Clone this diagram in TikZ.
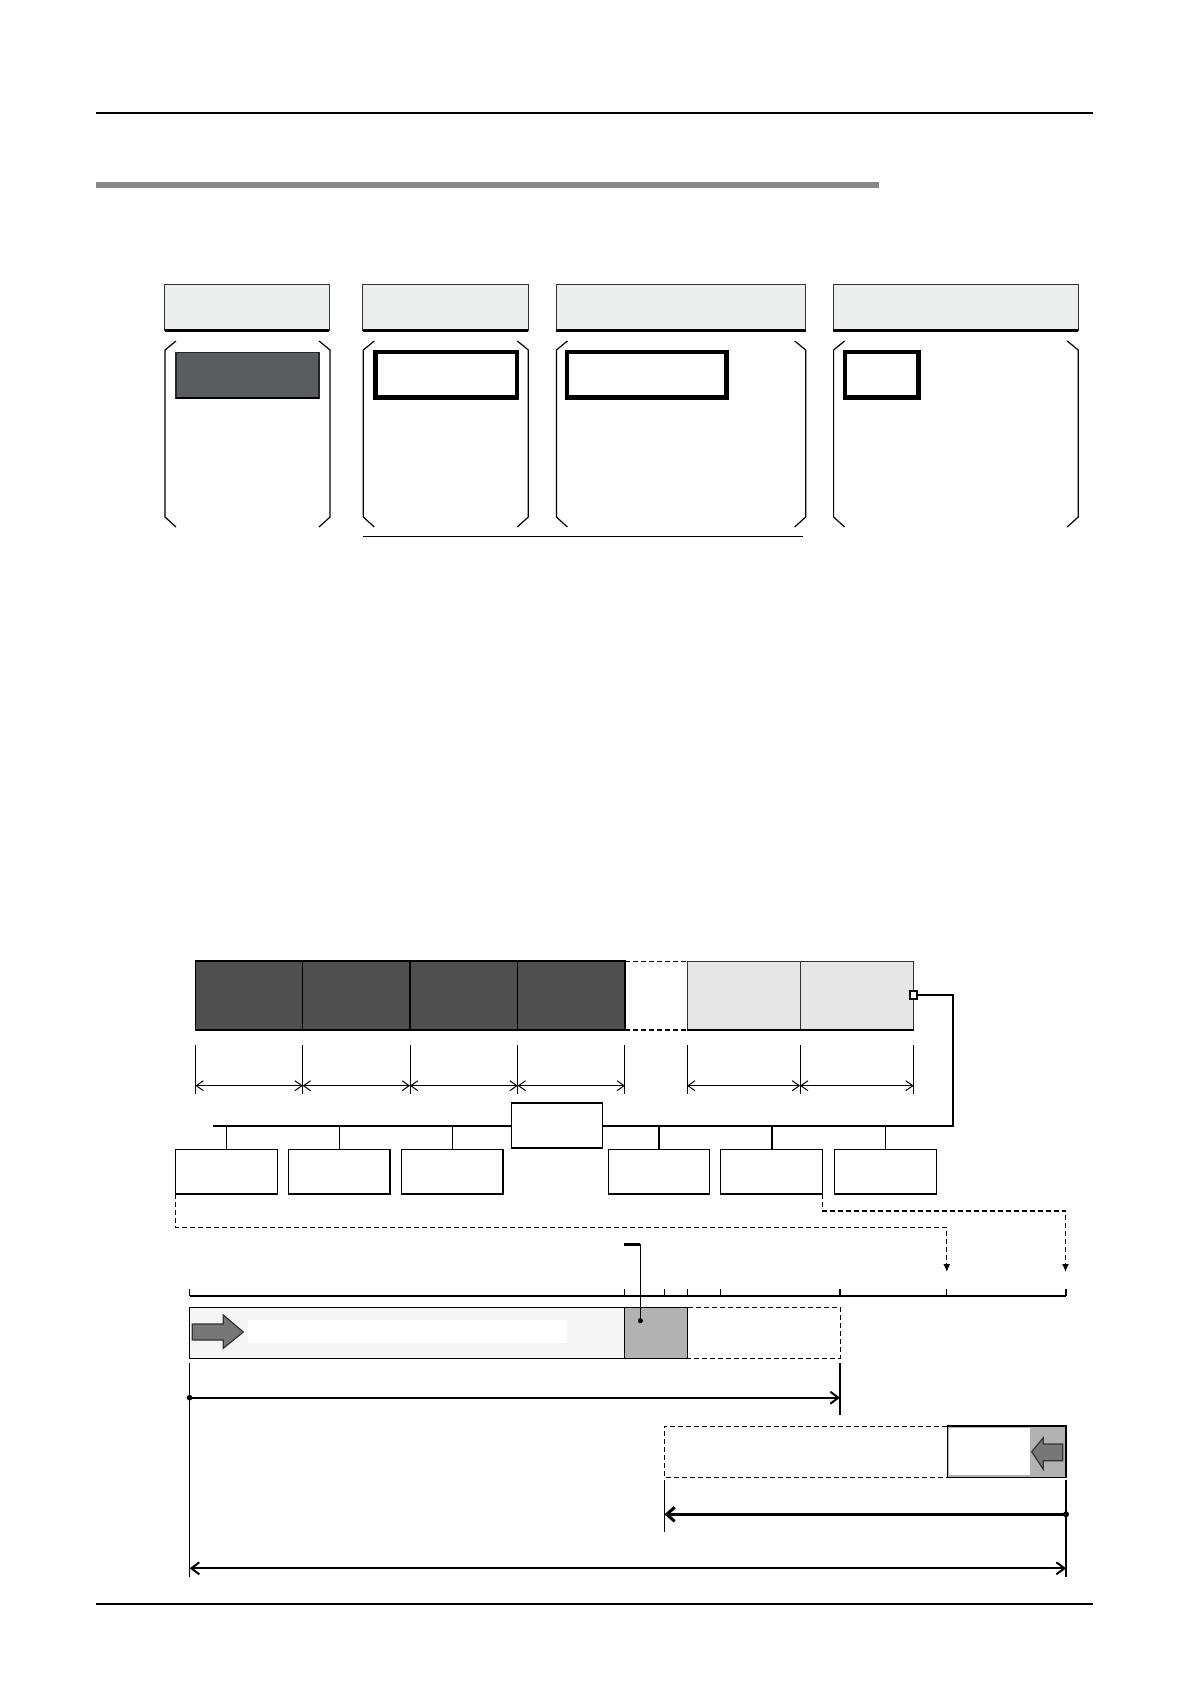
\documentclass[tikz,border=0pt]{standalone}
\usetikzlibrary{arrows.meta}
\definecolor{hdrfill}{HTML}{ECEDED}
\definecolor{darkfill}{HTML}{5B5C5E}
\definecolor{blockdark}{HTML}{4F4F4F}
\definecolor{blocklight}{HTML}{E6E6E6}
\definecolor{barfill}{HTML}{888888}
\definecolor{palefill}{HTML}{F5F5F5}
\definecolor{hatchfill}{HTML}{B2B2B2}
\definecolor{arrowfill}{HTML}{777777}
\newcommand\pbox[6]{%
  \pgfmathsetmacro\pbX{(#3+#5)/2}\pgfmathsetmacro\pbY{(#4+#6)/2}%
  \pgfmathsetmacro\pbW{(#5-#3)*0.5}\pgfmathsetmacro\pbH{(#6-#4)*0.5}%
  \node[#2, minimum width=\pbW pt, minimum height=\pbH pt] (#1) at (\pbX,\pbY) {};}
\newcommand\bottomedge[2]{\draw[line width=#2] (#1.south west) -- (#1.south east);}
\newcommand\brackets[2]{%
  \draw[thinline] (#1+11,341) -- (#1,350) -- (#1,517) -- (#1+11,527);
  \draw[thinline] (#2-11,341) -- (#2,350) -- (#2,517) -- (#2-11,527);}
\tikzset{
  base/.style={rectangle, inner sep=0pt, outer sep=0pt},
  hdr/.style={base, fill=hdrfill, draw=black!80, line width=0.6pt},
  thinline/.style={line width=0.6pt},
  darkbox/.style={base, fill=darkfill, draw=black!85, line width=0.7pt},
  thickbox/.style={base, fill=white, draw=black, line width=2.2pt},
  dblock/.style={base, fill=blockdark, draw=black, line width=0.6pt},
  lblock/.style={base, fill=blocklight, draw=black!80, line width=0.5pt},
  wbox/.style={base, fill=white, draw=black, line width=0.6pt},
  dimarrow/.style={line width=0.5pt, {Straight Barb[length=3.5pt,width=5pt]}-{Straight Barb[length=3.5pt,width=5pt]}},
  dashline/.style={line width=0.6pt, dash pattern=on 2.5pt off 1.5pt},
  bigarrow/.style={fill=arrowfill, draw=black!80, line width=0.6pt},
  hatch/.style={base, fill=hatchfill, draw=black, line width=0.6pt},
}
\begin{document}
\begin{tikzpicture}[x=0.5pt, y=-0.5pt]
\useasboundingbox (0,0) rectangle (1190,1684);
% page rules
\draw[line width=0.7pt] (95.6,113) -- (1093,113);
\draw[barfill, line width=2.6pt] (95.6,185) -- (878.6,185);
\draw[line width=0.7pt] (95.6,1604) -- (1093,1604);

% ---------- top: four columns ----------
\pbox{h1}{hdr}{164.6}{284.5}{329.3}{330.5}
\pbox{h2}{hdr}{362.7}{284.5}{528.1}{330.5}
\pbox{h3}{hdr}{556.3}{284.5}{805.5}{330.5}
\pbox{h4}{hdr}{833.4}{284.5}{1078.2}{330.5}
\foreach \n in {h1,h2,h3,h4}{\bottomedge{\n}{1.2pt}}
\brackets{165}{330}
\brackets{363.3}{528.3}
\brackets{556.4}{805.7}
\brackets{833.6}{1078.2}
\pbox{c1}{darkbox}{176}{352.3}{319}{398.3}
\bottomedge{c1}{1.2pt}
\pbox{c2}{thickbox}{375.5}{352.2}{516.8}{397.5}
\pbox{c3}{thickbox}{567.2}{352.2}{726.4}{397.5}
\pbox{c4}{thickbox}{845.1}{352.2}{918.5}{397.5}
\draw[thinline] (362.7,536.7) -- (802.5,536.7);

% ---------- bottom: blocks ----------
\pbox{d1}{dblock}{195.5}{961}{302.7}{1030}
\pbox{d2}{dblock}{302.7}{961}{410}{1030}
\pbox{d3}{dblock}{410}{961}{517.7}{1030}
\pbox{d4}{dblock}{517.7}{961}{624.9}{1030}
\foreach \n in {d1,d2,d3,d4}{\bottomedge{\n}{1.3pt}}
\draw[dashline, line width=0.5pt] (d4.north east) -- (687.1,961);
\draw[dashline, line width=1.2pt] (d4.south east) -- (687.1,1030);
\pbox{l1}{lblock}{687.1}{961}{800.1}{1030}
\pbox{l2}{lblock}{800.1}{961}{913.6}{1030}
\foreach \n in {l1,l2}{\bottomedge{\n}{1.3pt}}
\pbox{sq}{base, fill=white, draw=black, line width=1pt}{909.6}{991}{917.2}{999}

% dimension ticks and arrows
\foreach \xx in {195.5,302.7,410,517.7,624.9,687.1,800.1,913.6}{
  \draw[line width=0.5pt] (\xx,1045) -- (\xx,1094);}
\foreach \a/\b in {195.5/302.7,302.7/410,410/517.7,517.7/624.9,687.1/800.1,800.1/913.6}{
  \draw[dimarrow] (\a,1085.7) -- (\b,1085.7);}

% bus
\coordinate (busL) at (212.8,1125.7);
\coordinate (busR) at (952.8,1125.7);
\draw[line width=1pt] (sq.east) -| (busR) -- (busL);
\pbox{m}{wbox}{511.4}{1103}{602.4}{1148}
\bottomedge{m}{1.2pt}
\pbox{b1}{wbox}{175.6}{1149.3}{277.1}{1194}
\pbox{b2}{wbox}{288.6}{1149.3}{390}{1194}
\pbox{b3}{wbox}{401.6}{1149.3}{503}{1194}
\pbox{b4}{wbox}{608.2}{1149.3}{709.1}{1194}
\pbox{b5}{wbox}{720.6}{1149.3}{822.6}{1194}
\pbox{b6}{wbox}{834.6}{1149.3}{936.1}{1194}
\foreach \n in {b1,b2,b3,b4,b5,b6}{\bottomedge{\n}{1.2pt}}
\foreach \n in {b1,b2,b3,b6}{\draw[line width=0.5pt] (\n.north |- busL) -- (\n.north);}
\foreach \n in {b4,b5}{\draw[line width=1pt] (\n.north |- busL) -- (\n.north);}

% dashed links to the time axis
\coordinate (tip1) at (946.8,1272);
\coordinate (tip2) at (1065.5,1272);
\draw[dashline, -{Latex[length=4pt,width=3.5pt]}] (b1.south west) -- (175.6,1227.3) -| (tip1);
\draw[dashline, -{Latex[length=4pt,width=3.5pt]}] (b5.south east) -- (822.6,1211) -| (tip2);

% time axis
\draw[line width=1.1pt] (189.6,1295.7) -- (1066,1295.7);
\foreach \xx in {189.6,624.8,664.4,687.8,720.7,840,946.8,1066}{
  \draw[line width=0.6pt] (\xx,1289) -- (\xx,1295.7);}

% upper bar
\pbox{r1}{base, fill=palefill, draw=black, line width=0.6pt}{189.6}{1307.3}{624.8}{1358.3}
\fill[white] (248,1320) rectangle (566.7,1343.3);
\draw[bigarrow] (192.3,1324) -- (223.3,1324) -- (223.3,1315) -- (243.3,1332) -- (223.3,1348.3) -- (223.3,1340) -- (192.3,1340) -- cycle;
\pbox{hz1}{hatch}{624.8}{1307.3}{687.8}{1358.3}
\draw[dashline, line width=0.5pt] (hz1.north east) -- (840,1307.3) -- (840,1358.3) -- (hz1.south east);
% leader
\coordinate (ld) at (640.4,1320.7);
\draw[line width=1.3pt] (623.6,1244.3) -- (640.4,1244.3);
\draw[line width=0.6pt] (640.4,1244.3) -- (ld);
\fill (ld) circle[radius=2.6];

% first dimension
\draw[line width=0.5pt] (189.6,1363) -- (189.6,1576.7);
\draw[line width=1pt] (840,1363) -- (840,1415);
\coordinate (s1) at (189.6,1397.7);
\coordinate (e1) at (840,1397.7);
\fill (s1) circle[radius=2.8];
\draw[line width=1pt, -{Straight Barb[length=4pt,width=6pt]}] (s1) -- (e1);

% lower bar
\draw[dashline, line width=0.5pt] (947.4,1426) -- (664.4,1426) -- (664.4,1477.3) -- (947.4,1477.3);
\pbox{hz2}{hatch}{947.4}{1426}{1066}{1477.3}
\fill[white] (948.5,1428) rectangle (1029.5,1475);
\draw[line width=1pt] (hz2.north east) -- (hz2.south east);
\draw[bigarrow] (1062.7,1444) -- (1043.3,1444) -- (1043.3,1437.7) -- (1031.7,1451.7) -- (1043.3,1469.3) -- (1043.3,1460.7) -- (1062.7,1460.7) -- cycle;

% second dimension
\draw[line width=0.5pt] (664.4,1480) -- (664.4,1531.7);
\draw[line width=1pt] (1066,1480) -- (1066,1576.7);
\coordinate (s2) at (1066,1514.3);
\coordinate (e2) at (664.4,1514.3);
\fill (s2) circle[radius=3];
\draw[line width=1.5pt, -{Straight Barb[length=4pt,width=7pt]}] (s2) -- (e2);

% total dimension
\coordinate (s3) at (189.6,1568.3);
\coordinate (e3) at (1066,1568.3);
\draw[line width=1pt, {Straight Barb[length=4pt,width=6pt]}-{Straight Barb[length=4pt,width=6pt]}] (s3) -- (e3);
\end{tikzpicture}
\end{document}
